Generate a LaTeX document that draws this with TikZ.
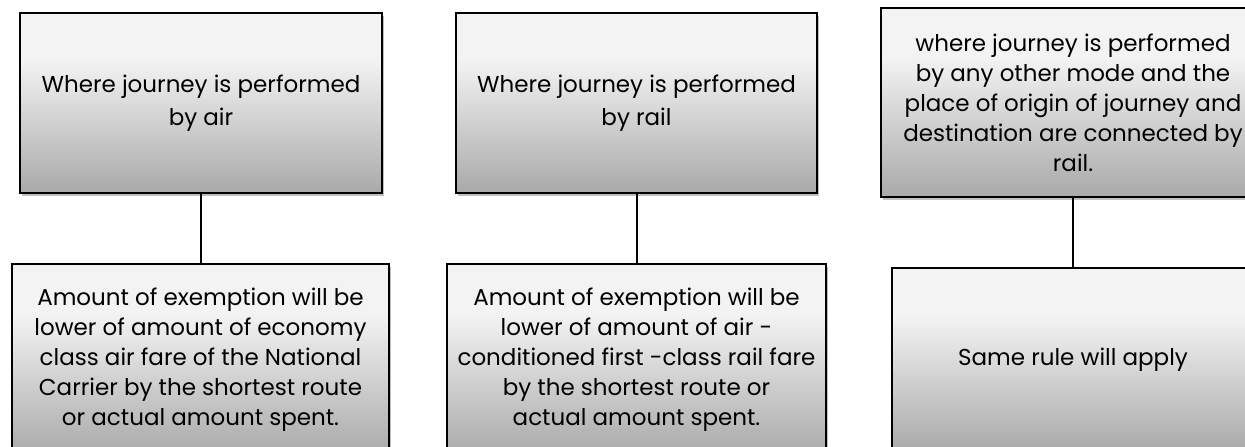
\documentclass[tikz,border=0pt]{standalone}
\usepackage{fontspec}
\setmainfont{Poppins}
\usetikzlibrary{shadows}
\definecolor{gtop}{HTML}{F3F3F3}
\definecolor{gbot}{HTML}{A9A9A9}
\pgfdeclareverticalshading{boxgrad}{100bp}{color(0bp)=(gbot); color(25bp)=(gbot); color(62bp)=(gtop); color(100bp)=(gtop)}
\tikzset{
  gbox/.style={draw=black, line width=2pt, shading=boxgrad, align=center,
    inner sep=0pt, font=\fontsize{23}{30}\selectfont,
    drop shadow={shadow xshift=1.5pt, shadow yshift=-2.5pt, opacity=0.25, fill=black}},
  widelines/.style={font=\fontsize{23}{33}\selectfont},
  link/.style={draw=black, line width=2pt}
}
\begin{document}
\begin{tikzpicture}[x=1pt,y=-1pt]
\useasboundingbox (0,0) rectangle (1245,447);
\fill[white] (0,0) rectangle (1245,447);
\clip (0,0) rectangle (1245,447);
\node[gbox, widelines, minimum width=362pt, minimum height=180pt] (t1) at (201,103)
  {Where journey is performed\\by air};
\node[gbox, widelines, minimum width=361pt, minimum height=180pt] (t2) at (636.5,103)
  {Where journey is performed\\by rail};
\node[gbox, minimum width=384pt, minimum height=189pt] (t3) at (1073,102.5)
  {where journey is performed\\by any other mode and the\\place of origin of journey and\\destination are connected by\\rail.};
\node[gbox, minimum width=377pt, minimum height=192pt] (b1) at (200.5,360)
  {Amount of exemption will be\\lower of amount of economy\\class air fare of the National\\Carrier by the shortest route\\or actual amount spent.};
\node[gbox, minimum width=379pt, minimum height=192pt] (b2) at (636.5,360)
  {Amount of exemption will be\\lower of amount of air -\\conditioned first -class rail fare\\by the shortest route or\\actual amount spent.};
\node[gbox, minimum width=362pt, minimum height=184pt] (b3) at (1073,360)
  {Same rule will apply};
\draw[link] (t1.south) -- (b1.north -| t1.south);
\draw[link] (t2.south) -- (b2.north -| t2.south);
\draw[link] (t3.south) -- (b3.north);
\end{tikzpicture}
\end{document}
